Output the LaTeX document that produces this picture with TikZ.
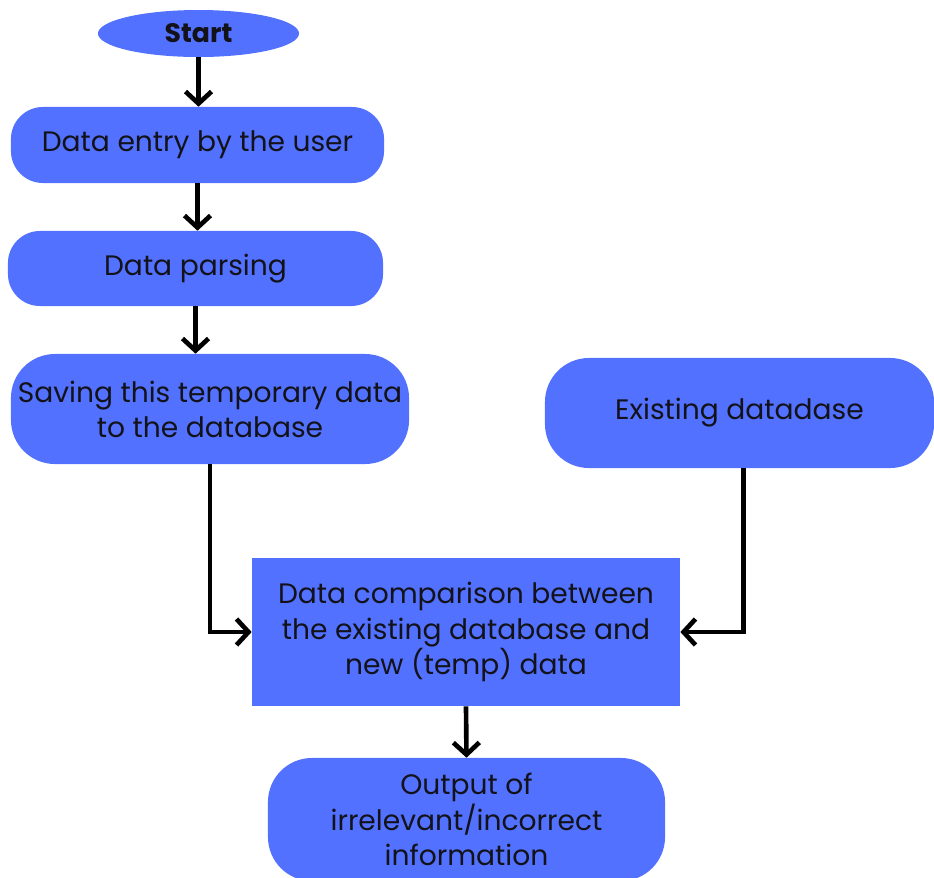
\documentclass[tikz,border=0pt]{standalone}
\usepackage{fontspec}
\setmainfont{Poppins}
\usetikzlibrary{arrows.meta,positioning,shapes.geometric}
\definecolor{boxblue}{RGB}{82,113,255}
\definecolor{inkblack}{RGB}{18,18,24}

\begin{document}
\begin{tikzpicture}[x=0.025cm,y=-0.025cm,
    every node/.style={font=\fontsize{20}{25}\selectfont,text=inkblack},
    roundbox/.style={fill=boxblue,rounded corners=0.8cm,align=center,inner sep=0pt},
    flow/.style={line width=3.3pt,-{Straight Barb[length=3mm,width=6.5mm]}}]
  \useasboundingbox (0,0) rectangle (934,877);
  \node[ellipse,fill=boxblue,inner sep=0pt,font=\fontsize{19}{25}\selectfont\bfseries,
        minimum width=5.025cm,minimum height=1.175cm]
    (start) at (198.5,33.5) {Start};
  \node[roundbox,minimum width=9.325cm,minimum height=1.9cm]
    (entry) at (197.5,145) {Data entry by the user};
  \node[roundbox,minimum width=9.375cm,minimum height=1.875cm]
    (parse) at (195.5,268.5) {Data parsing};
  \node[roundbox,rounded corners=1.1cm,minimum width=9.95cm,minimum height=2.75cm]
    (save) at (210,409) {Saving this temporary data\\to the database};
  \node[roundbox,rounded corners=1.1cm,minimum width=9.725cm,minimum height=2.75cm]
    (exist) at (739.5,413) {Existing datadase};
  \node[fill=boxblue,align=center,inner sep=0pt,
        minimum width=10.7cm,minimum height=3.7cm]
    (compare) at (466,632) {Data comparison between\\the existing database and\\new (temp) data};
  \node[roundbox,rounded corners=1.1cm,minimum width=9.925cm,minimum height=3.075cm]
    (output) at (466.5,819.5) {Output of\\irrelevant/incorrect\\information};
  \draw[flow] (start.south) -- (start.south |- entry.north);
  \draw[flow] (entry.south) -- (entry.south |- parse.north);
  \draw[flow] (parse.south) -- (parse.south |- save.north);
  \draw[flow] (save.south) |- (compare.west);
  \draw[flow] ([xshift=0.1cm]exist.south) |- (compare.east);
  \draw[flow] (compare.south) -- (output.north);
\end{tikzpicture}
\end{document}
